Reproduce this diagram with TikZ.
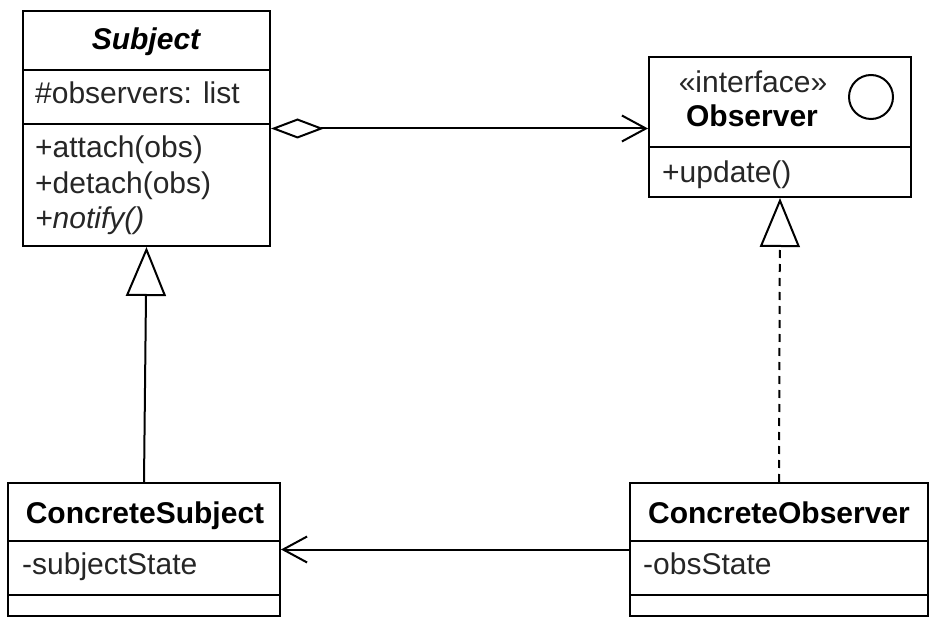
\documentclass[tikz,border=0pt]{standalone}
\usepackage{fontspec}
\setmainfont{Liberation Sans}
\usetikzlibrary{arrows.meta}

\tikzset{
  classbox/.style={draw, line width=2pt, inner sep=0pt},
  member/.style={anchor=base west, inner sep=0pt, text=black!85, font=\fontsize{30}{36}\selectfont},
  ctitle/.style={anchor=base, inner sep=0pt, font=\fontsize{30}{36}\selectfont\bfseries},
  conn/.style={line width=2pt},
  gen/.style={conn, -{Triangle[open, length=49pt, width=40pt, fill=white]}},
  assoc/.style={conn, -{Straight Barb[length=24pt, width=26pt]}},
  agg/.style={conn, {Diamond[open, length=53pt, width=20pt, fill=white]}-{Straight Barb[length=24pt, width=26pt]}}
}

\begin{document}
\begin{tikzpicture}[x=1pt, y=-1pt]
\useasboundingbox (0,0) rectangle (938,628);

% Subject
\node[classbox, minimum width=247pt, minimum height=235pt] (subject) at (146.5,128.5) {};
\draw[line width=2pt] (23,70) -- (270,70);
\draw[line width=2pt] (23,124) -- (270,124);
\node[ctitle, font=\fontsize{30}{36}\selectfont\bfseries\itshape] (subjname) at (146,50) {Subject};
\node[member] (subjobs) at (35,104) {\#observers: list};
\node[member] (subjattach) at (35,158) {+attach(obs)};
\node[member] (subjdetach) at (35,194) {+detach(obs)};
\node[member] (subjnotify) at (35,229) {\itshape +notify()};

% Observer
\node[classbox, minimum width=262pt, minimum height=140pt] (observer) at (780,127) {};
\draw[line width=2pt] (649,147) -- (911,147);
\node[anchor=base, inner sep=0pt, text=black!85, font=\fontsize{30}{36}\selectfont] (obsstereo) at (753,93) {«interface»};
\node[ctitle] (obsname) at (752,127) {Observer};
\node[draw, circle, line width=2pt, minimum size=44pt, inner sep=0pt] (obsicon) at (871,97) {};
\node[member] (obsupdate) at (662,183) {+update()};

% ConcreteSubject
\node[classbox, minimum width=272pt, minimum height=133pt] (csubject) at (144,549.5) {};
\draw[line width=2pt] (8,541) -- (280,541);
\draw[line width=2pt] (8,595) -- (280,595);
\node[ctitle] (csubjname) at (145,523) {ConcreteSubject};
\node[member] (csubjstate) at (22,574) {-subjectState};

% ConcreteObserver
\node[classbox, minimum width=298pt, minimum height=133pt] (cobserver) at (779,549.5) {};
\draw[line width=2pt] (630,541) -- (928,541);
\draw[line width=2pt] (630,595) -- (928,595);
\node[ctitle] (cobsname) at (779,523) {ConcreteObserver};
\node[member] (cobsstate) at (643,574) {-obsState};

% relations
\draw[agg] (subject.east) -- (subject.east -| observer.west);
\draw[gen] (csubject.north) -- (subject.south);
\draw[gen, dash pattern=on 8pt off 6pt] (cobserver.north) -- (observer.south);
\draw[assoc] (cobserver.west) -- (csubject.east);
\end{tikzpicture}
\end{document}
